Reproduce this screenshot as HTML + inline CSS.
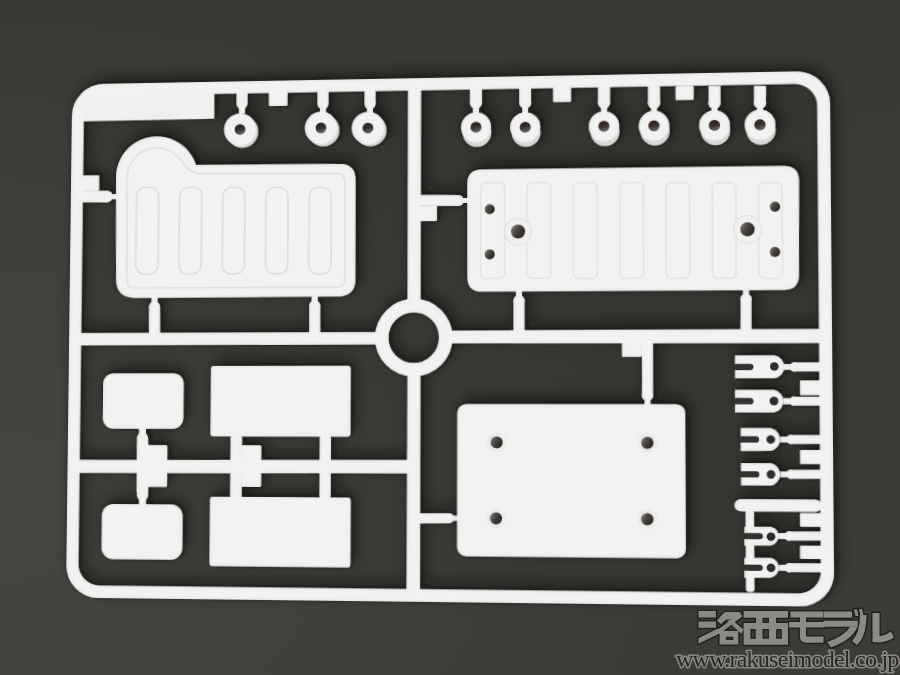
<!DOCTYPE html>
<html><head><meta charset="utf-8"><style>
html,body{margin:0;padding:0;width:900px;height:675px;overflow:hidden;background:#3f3d3a}
#bg{position:absolute;left:0;top:0;width:900px;height:675px}
#spr{position:absolute;left:0;top:0;width:900px;height:700px;transform-origin:0 0;transform:matrix3d(0.942383731,-0.0215854007,0,-5.51101509e-05,-0.0136874787,0.957308192,0,-2.619542e-05,0,0,1,0,16.165814,27.7752426,0,1)}
.w{fill:#f2f2f2}
.w2{fill:#dadad9}
.rhole{fill:url(#rg)}
.hole{fill:url(#hg)}
.slot{fill:#34312e}
.thru{fill:#2f2c29}
.rib{fill:none;stroke:#dcdcda;stroke-width:1.7}
.ln{fill:none;stroke:#dededc;stroke-width:1.6}
.halo{fill:#ebebea}
.np{fill:#f0f0ef}
.rib2{fill:none;stroke:#e3e3e2;stroke-width:1.6}
.ln2{fill:none;stroke:#eaeae9;stroke-width:1.4}
.halo2{fill:#f0f0ef;stroke:#e2e2e1;stroke-width:1.3}
</style></head><body>
<svg id="bg" width="900" height="675" viewBox="0 0 900 675">
<defs>
<linearGradient id="g1" x1="0" y1="0" x2="0" y2="1">
<stop offset="0" stop-color="#383934"/><stop offset="0.4" stop-color="#3b3a36"/><stop offset="1" stop-color="#3d3b37"/>
</linearGradient>
<radialGradient id="g2" cx="0" cy="0.75" r="0.75">
<stop offset="0" stop-color="#46443f" stop-opacity="1"/><stop offset="0.5" stop-color="#46443f" stop-opacity="0.6"/><stop offset="1" stop-color="#46443f" stop-opacity="0"/>
</radialGradient>
</defs>
<rect width="900" height="675" fill="url(#g1)"/>
<rect width="900" height="675" fill="url(#g2)"/>
</svg>
<svg id="spr" width="900" height="700" viewBox="0 0 900 700">
<defs>
<filter id="sh" x="-10%" y="-10%" width="120%" height="120%">
<feGaussianBlur in="SourceAlpha" stdDeviation="8"/>
<feOffset dx="4" dy="-6" result="b1"/>
<feFlood flood-color="#151412" flood-opacity="0.5"/>
<feComposite in2="b1" operator="in" result="s1"/>
<feGaussianBlur in="SourceAlpha" stdDeviation="2.2"/>
<feOffset dx="1.5" dy="-1.5" result="b2"/>
<feFlood flood-color="#151412" flood-opacity="0.5"/>
<feComposite in2="b2" operator="in" result="s2"/>
<feGaussianBlur in="SourceAlpha" stdDeviation="1.6" result="ib"/>
<feComposite in="SourceAlpha" in2="ib" operator="out" result="edge"/>
<feFlood flood-color="#9a9a98" flood-opacity="0.45"/>
<feComposite in2="edge" operator="in" result="ie"/>
<feMerge><feMergeNode in="s1"/><feMergeNode in="s2"/><feMergeNode in="SourceGraphic"/><feMergeNode in="ie"/></feMerge>
</filter>
<linearGradient id="hg" x1="0" y1="0.2" x2="1" y2="0.8"><stop offset="0" stop-color="#7a7774"/><stop offset="0.45" stop-color="#45403b"/><stop offset="1" stop-color="#231f1b"/></linearGradient>
<linearGradient id="rg" x1="0" y1="0" x2="0.3" y2="1"><stop offset="0" stop-color="#221d1a"/><stop offset="0.6" stop-color="#3a312c"/><stop offset="1" stop-color="#6a625c"/></linearGradient>
<filter id="blur8"><feGaussianBlur stdDeviation="6"/></filter>
</defs>
<path d="M94.5 72.5 h694.0 a22 22 0 0 1 22 22 v456.0 a22 22 0 0 1 -22 22 h-694.0 a22 22 0 0 1 -22 -22 v-456.0 a22 22 0 0 1 22 -22 Z" fill="#1f1a17" opacity="0.16" filter="url(#blur8)"/>
<g filter="url(#sh)">
<path class="w" fill-rule="evenodd" d="M93 60 h697 a33 33 0 0 1 33 33 v459 a33 33 0 0 1 -33 33 h-697 a33 33 0 0 1 -33 -33 v-459 a33 33 0 0 1 33 -33 Z M94.5 72.5 h694.0 a22 22 0 0 1 22 22 v456.0 a22 22 0 0 1 -22 22 h-694.0 a22 22 0 0 1 -22 -22 v-456.0 a22 22 0 0 1 22 -22 Z"/>
<polygon class="w" points="73.6 72.3, 208.1 67.4, 208.4 97.9, 68.6 98.6, 68.4 76.4" />
<polygon class="w" points="406.3 67.8, 419.5 68.0, 419.5 286.3, 406.5 286.2" />
<polygon class="w" points="406.7 358.4, 419.7 358.4, 419.9 577.2, 406.4 577.4" />
<polygon class="w" points="67.1 316.2, 376.9 316.2, 376.9 328.8, 67.3 329.0" />
<polygon class="w" points="449.2 315.0, 813.4 314.8, 813.3 328.5, 449.2 328.0" />
<circle cx="412.8" cy="322.0" r="32.1" fill="none" stroke="#f2f2f2" stroke-width="13.6"/>
<polygon class="w" points="66.6 445.6, 407.5 444.3, 407.5 457.8, 66.8 458.8" />
<path class="w" d="M107.0 157.0 L107.2 152.0 L108.1 147.1 L109.5 142.4 L111.4 137.9 L113.9 133.6 L116.9 129.7 L120.4 126.1 L124.2 123.0 L128.4 120.4 L133.0 118.3 L137.7 116.8 L142.6 115.8 L147.6 115.3 L152.6 115.5 L157.6 116.3 L162.4 117.6 L167.1 119.5 L171.6 121.9 L175.7 124.8 L179.5 128.1 L182.8 131.9 L185.7 136.0 L188.1 140.4 L190.0 145.0 L337.7 146.1 Q353.4 146.3 353.5 162.5 L353.9 262.7 Q354.0 280.4 335.3 280.3 L128.1 280.7 Q108.4 280.6 108.2 261.1 Z"/>
<path class="w" d="M480.9 153.5 L778.0 153.8 Q792.5 154.0 792.4 168.8 L791.7 261.6 Q791.6 276.4 777.1 276.3 L481.1 276.3 Q466.4 276.2 466.4 261.4 L466.2 167.9 Q466.2 153.3 480.9 153.5 Z"/>
<polygon class="w" points="231.1 66.8, 242.5 67.0, 242.6 83.4, 231.3 83.2" />
<ellipse cx="236.9" cy="83.3" rx="5.6" ry="5.2" class="w"/>
<polygon class="w" points="233.8 83.3, 240.0 83.4, 240.1 93.1, 233.9 93.0" />
<circle cx="237.7" cy="112.0" r="16.2" class="w2" />
<circle cx="235.1" cy="109.4" r="16.5" class="w" />
<polygon class="w" points="314.3 68.2, 325.5 68.4, 325.6 84.8, 314.4 84.6" />
<ellipse cx="320.0" cy="84.7" rx="5.6" ry="5.2" class="w"/>
<polygon class="w" points="317.0 84.6, 323.1 84.7, 323.1 94.4, 317.0 94.3" />
<circle cx="320.7" cy="111.7" r="16.2" class="w2" />
<circle cx="318.1" cy="109.1" r="16.5" class="w" />
<polygon class="w" points="362.2 69.1, 373.4 69.3, 373.5 85.6, 362.3 85.4" />
<ellipse cx="367.9" cy="85.5" rx="5.6" ry="5.2" class="w"/>
<polygon class="w" points="364.8 85.4, 370.9 85.5, 371.0 95.2, 364.9 95.1" />
<circle cx="368.5" cy="112.4" r="16.2" class="w2" />
<circle cx="365.9" cy="109.9" r="16.5" class="w" />
<polygon class="w" points="468.8 68.9, 480.8 69.1, 480.9 86.3, 468.8 86.1" />
<ellipse cx="474.8" cy="86.2" rx="6.1" ry="5.7" class="w"/>
<polygon class="w" points="471.8 86.2, 477.9 86.3, 477.9 96.9, 471.8 96.8" />
<circle cx="475.9" cy="116.3" r="14.3" class="w2" />
<circle cx="474.9" cy="110.7" r="15.0" class="w" />
<polygon class="w" points="518.1 69.8, 530.0 70.0, 530.0 87.1, 518.1 86.9" />
<ellipse cx="524.1" cy="87.0" rx="6.1" ry="5.7" class="w"/>
<polygon class="w" points="521.1 87.0, 527.0 87.1, 527.0 97.7, 521.1 97.6" />
<circle cx="525.0" cy="117.0" r="14.3" class="w2" />
<circle cx="524.1" cy="111.4" r="15.0" class="w" />
<polygon class="w" points="596.4 71.1, 608.3 71.4, 608.2 88.4, 596.4 88.2" />
<ellipse cx="602.3" cy="88.3" rx="6.1" ry="5.7" class="w"/>
<polygon class="w" points="599.3 88.3, 605.3 88.4, 605.2 98.9, 599.3 98.8" />
<circle cx="603.2" cy="117.3" r="14.3" class="w2" />
<circle cx="602.2" cy="111.7" r="15.0" class="w" />
<polygon class="w" points="645.7 72.0, 657.5 72.2, 657.5 89.3, 645.7 89.1" />
<ellipse cx="651.6" cy="89.2" rx="6.1" ry="5.7" class="w"/>
<polygon class="w" points="648.6 89.1, 654.5 89.2, 654.5 99.7, 648.6 99.6" />
<circle cx="652.5" cy="117.5" r="14.3" class="w2" />
<circle cx="651.5" cy="112.0" r="15.0" class="w" />
<polygon class="w" points="705.1 73.1, 716.8 73.3, 716.7 90.2, 705.0 90.0" />
<ellipse cx="710.8" cy="90.1" rx="6.1" ry="5.7" class="w"/>
<polygon class="w" points="707.9 90.1, 713.8 90.2, 713.7 100.7, 707.9 100.6" />
<circle cx="711.7" cy="117.9" r="14.3" class="w2" />
<circle cx="710.7" cy="112.4" r="15.0" class="w" />
<polygon class="w" points="749.4 73.8, 761.1 74.0, 761.0 91.0, 749.3 90.8" />
<ellipse cx="755.1" cy="90.9" rx="6.1" ry="5.7" class="w"/>
<polygon class="w" points="752.2 90.8, 758.1 90.9, 758.0 101.4, 752.2 101.3" />
<circle cx="755.9" cy="118.1" r="14.3" class="w2" />
<circle cx="755.0" cy="112.6" r="15.0" class="w" />
<rect x="264.6" y="65.3" width="19.1" height="20.8" rx="1.5" class="w" />
<rect x="551.8" y="70.4" width="17.9" height="16.4" rx="1.5" class="w" />
<rect x="672.8" y="72.5" width="17.7" height="14.3" rx="1.5" class="w" />
<polygon class="w" points="142.7 289.4, 154.1 289.5, 154.4 317.5, 143.0 317.5" />
<ellipse cx="148.4" cy="289.5" rx="5.6" ry="5.2" class="w"/>
<polygon class="w" points="145.2 279.2, 151.4 279.3, 151.5 289.5, 145.3 289.4" />
<polygon class="w" points="307.1 289.2, 318.3 289.3, 318.4 317.0, 307.3 317.0" />
<ellipse cx="312.7" cy="289.2" rx="5.6" ry="5.2" class="w"/>
<polygon class="w" points="309.6 279.1, 315.7 279.2, 315.8 289.3, 309.7 289.2" />
<polygon class="w" points="512.4 285.2, 523.3 285.3, 523.3 315.7, 512.4 315.7" />
<ellipse cx="517.9" cy="285.3" rx="5.6" ry="5.2" class="w"/>
<polygon class="w" points="514.9 275.3, 520.9 275.3, 520.9 285.3, 514.9 285.2" />
<polygon class="w" points="735.1 284.9, 745.7 285.0, 745.5 315.5, 734.9 315.5" />
<ellipse cx="740.4" cy="284.9" rx="5.6" ry="5.2" class="w"/>
<polygon class="w" points="737.5 275.1, 743.3 275.1, 743.3 285.0, 737.5 284.9" />
<polygon class="w" points="68.5 170.2, 98.0 170.6, 98.1 182.4, 68.6 182.1" />
<ellipse cx="98.1" cy="176.5" rx="5.5" ry="5.9" class="w"/>
<polygon class="w" points="98.0 173.9, 108.2 174.0, 108.3 179.2, 98.1 179.1" />
<rect x="68.3" y="154.4" width="21.1" height="16.2" rx="1.0" class="w" />
<polygon class="w" points="418.7 178.5, 457.4 178.9, 457.5 190.0, 418.8 189.6" />
<ellipse cx="457.4" cy="184.5" rx="5.2" ry="5.6" class="w"/>
<polygon class="w" points="457.4 181.9, 467.5 182.0, 467.5 187.1, 457.4 187.0" />
<rect x="418.8" y="189.6" width="17.1" height="15.3" rx="1.0" class="w" />
<rect x="96.0" y="357.4" width="83.3" height="56.4" rx="11.0" class="w" />
<rect x="96.2" y="490.1" width="83.2" height="55.6" rx="12.0" class="w" />
<polygon class="w" points="131.7 422.6, 143.1 422.6, 143.2 435.2, 131.8 435.3" />
<ellipse cx="137.4" cy="422.6" rx="5.6" ry="5.2" class="w"/>
<polygon class="w" points="133.7 412.5, 140.9 412.4, 141.0 422.6, 133.8 422.6" />
<rect x="131.8" y="429.2" width="11.9" height="48.5" rx="0.0" class="w" />
<polygon class="w" points="132.2 470.7, 143.6 470.6, 143.7 481.2, 132.3 481.3" />
<ellipse cx="138.0" cy="481.2" rx="5.6" ry="5.2" class="w"/>
<polygon class="w" points="134.4 481.3, 141.6 481.2, 141.7 491.3, 134.5 491.4" />
<rect x="142.1" y="430.2" width="21.0" height="42.4" rx="1.5" class="w" />
<rect x="207.2" y="350.0" width="142.3" height="71.3" rx="3.0" class="w" />
<rect x="207.3" y="482.0" width="142.8" height="69.8" rx="3.0" class="w" />
<rect x="227.9" y="420.8" width="11.7" height="62.3" rx="2.0" class="w" />
<rect x="318.6" y="420.6" width="11.4" height="62.0" rx="2.0" class="w" />
<rect x="239.2" y="429.9" width="20.1" height="42.1" rx="1.5" class="w" />
<rect x="456.6" y="388.4" width="224.4" height="151.0" rx="9.0" class="w" />
<polygon class="w" points="639.0 327.0, 649.8 327.0, 649.6 379.9, 638.9 379.9" />
<ellipse cx="644.2" cy="379.9" rx="5.6" ry="5.2" class="w"/>
<polygon class="w" points="641.3 379.9, 647.1 379.9, 647.1 389.7, 641.3 389.7" />
<rect x="619.4" y="326.9" width="19.5" height="14.9" rx="1.0" class="w" />
<polygon class="w" points="418.6 497.3, 448.8 497.1, 448.9 507.0, 418.7 507.2" />
<ellipse cx="448.8" cy="502.0" rx="4.8" ry="5.1" class="w"/>
<polygon class="w" points="448.8 499.5, 458.3 499.5, 458.3 504.4, 448.8 504.5" />
<path class="w" d="M729.4 340.5 L767.4 340.6 A11.4 11.4 0 0 1 767.2 363.1 L729.3 363.1 Z"/>
<polygon class="w" points="786.5 347.5, 813.1 347.5, 813.1 356.3, 786.4 356.3" />
<ellipse cx="786.5" cy="351.9" rx="4.3" ry="4.6" class="w"/>
<polygon class="w" points="776.4 348.9, 786.5 348.9, 786.4 354.8, 776.4 354.8" />
<path class="w" d="M729.2 374.3 L766.8 374.3 A11.4 11.4 0 0 1 766.7 396.6 L729.1 396.6 Z"/>
<polygon class="w" points="785.9 381.0, 812.9 381.0, 812.8 389.8, 785.9 389.8" />
<ellipse cx="785.9" cy="385.4" rx="4.3" ry="4.6" class="w"/>
<polygon class="w" points="775.8 382.5, 785.9 382.5, 785.9 388.3, 775.8 388.4" />
<path class="w" d="M734.5 411.7 L763.5 411.7 A11.5 11.5 0 0 1 763.4 434.1 L734.4 434.2 Z"/>
<polygon class="w" points="782.7 418.5, 812.6 418.4, 812.5 427.1, 782.6 427.2" />
<ellipse cx="782.6" cy="422.8" rx="4.3" ry="4.6" class="w"/>
<polygon class="w" points="772.6 419.9, 782.7 419.9, 782.6 425.8, 772.5 425.8" />
<path class="w" d="M734.6 446.0 L763.5 445.9 A11.3 11.3 0 0 1 763.3 467.9 L734.5 468.1 Z"/>
<polygon class="w" points="782.4 452.4, 812.3 452.3, 812.2 461.0, 782.4 461.2" />
<ellipse cx="782.4" cy="456.8" rx="4.3" ry="4.6" class="w"/>
<polygon class="w" points="772.4 453.9, 782.4 453.9, 782.4 459.7, 772.3 459.8" />
<path class="w" d="M737.5 508.1 L763.1 507.9 A9.4 9.4 0 0 1 762.9 526.2 L737.4 526.4 Z"/>
<polygon class="w" points="780.2 512.6, 811.8 512.3, 811.7 521.0, 780.1 521.3" />
<ellipse cx="780.2" cy="516.9" rx="4.3" ry="4.6" class="w"/>
<polygon class="w" points="770.1 514.1, 780.2 514.0, 780.1 519.8, 770.1 519.9" />
<path class="w" d="M737.3 538.4 L762.9 538.2 A10.0 10.0 0 0 1 762.7 557.6 L737.2 557.8 Z"/>
<polygon class="w" points="780.5 543.3, 811.6 543.0, 811.5 551.7, 780.5 552.0" />
<ellipse cx="780.5" cy="547.7" rx="4.3" ry="4.6" class="w"/>
<polygon class="w" points="770.5 544.9, 780.5 544.8, 780.5 550.6, 770.4 550.7" />
<rect x="728.0" y="481.2" width="83.9" height="12.1" rx="6.5" class="w" />
<rect x="738.7" y="491.8" width="8.2" height="79.7" rx="3.0" class="w" />
<rect x="791.9" y="365.1" width="21.0" height="14.3" rx="1.0" class="w" />
<rect x="791.4" y="433.1" width="20.9" height="13.6" rx="1.0" class="w" />
<rect x="790.9" y="494.4" width="20.9" height="13.4" rx="1.0" class="w" />
<rect x="790.7" y="526.0" width="20.9" height="12.9" rx="1.0" class="w" />
</g>
<g>
<polygon class="np" points="74.6 73.4, 206.4 69.4, 206.6 96.7, 72.8 97.2" />
<path class="ln" d="M118.5 157.6 L118.6 154.5 L119.0 151.4 L119.8 148.4 L120.9 145.4 L122.3 142.6 L123.9 140.0 L125.9 137.5 L128.0 135.3 L130.4 133.3 L133.0 131.5 L135.8 130.1 L138.7 128.9 L141.7 128.0 L144.8 127.4 L148.0 127.2 L151.2 127.2 L154.3 127.6 L157.4 128.3 L160.5 129.3 L163.4 130.6 L166.2 132.2 L168.7 134.1 L171.1 136.2 L173.3 138.5 Q183.8 153.8 193.1 153.9 L334.7 155.7 Q342.8 155.8 342.8 163.9 L343.3 262.7 Q343.3 270.7 335.2 270.7 L127.0 270.5 Q119.7 270.4 119.6 262.2 Z"/>
<rect x="128.5" y="167.5" width="23.2" height="88.8" rx="9.0" class="rib" />
<rect x="173.3" y="168.0" width="23.0" height="88.6" rx="9.0" class="rib" />
<rect x="217.9" y="168.5" width="22.8" height="88.4" rx="9.0" class="rib" />
<rect x="262.3" y="169.1" width="22.6" height="88.1" rx="9.0" class="rib" />
<rect x="306.5" y="169.6" width="22.4" height="87.9" rx="9.0" class="rib" />
<rect x="479.6" y="166.9" width="24.0" height="96.1" rx="5.0" class="rib2" />
<rect x="525.8" y="167.4" width="23.8" height="95.9" rx="5.0" class="rib2" />
<rect x="571.8" y="168.0" width="23.5" height="95.6" rx="5.0" class="rib2" />
<rect x="617.5" y="168.5" width="23.3" height="95.3" rx="5.0" class="rib2" />
<rect x="663.0" y="169.1" width="23.1" height="95.1" rx="5.0" class="rib2" />
<rect x="708.2" y="169.6" width="22.8" height="94.8" rx="5.0" class="rib2" />
<rect x="753.2" y="170.1" width="22.6" height="94.6" rx="5.0" class="rib2" />
<circle cx="516.9" cy="216.3" r="13.5" class="halo2" />
<circle cx="742.2" cy="216.1" r="13.5" class="halo2" />
<circle cx="488.7" cy="193.5" r="5.0" class="hole" />
<circle cx="488.7" cy="238.9" r="5.0" class="hole" />
<circle cx="769.0" cy="194.0" r="5.0" class="hole" />
<circle cx="768.7" cy="238.8" r="5.0" class="hole" />
<circle cx="516.9" cy="216.3" r="7.0" class="hole" />
<circle cx="742.2" cy="216.1" r="7.0" class="hole" />
<circle cx="235.1" cy="109.4" r="5.5" class="rhole" />
<circle cx="318.1" cy="109.1" r="5.5" class="rhole" />
<circle cx="365.9" cy="109.9" r="5.5" class="rhole" />
<circle cx="474.9" cy="110.7" r="5.5" class="rhole" />
<circle cx="524.1" cy="111.4" r="5.5" class="rhole" />
<circle cx="602.2" cy="111.7" r="5.5" class="rhole" />
<circle cx="651.5" cy="112.0" r="5.5" class="rhole" />
<circle cx="710.7" cy="112.4" r="5.5" class="rhole" />
<circle cx="755.0" cy="112.6" r="5.5" class="rhole" />
<circle cx="495.8" cy="426.4" r="10.0" class="halo" />
<circle cx="495.8" cy="426.4" r="6.0" class="hole" />
<circle cx="643.9" cy="426.4" r="10.0" class="halo" />
<circle cx="643.9" cy="426.4" r="6.0" class="hole" />
<circle cx="495.2" cy="501.7" r="10.0" class="halo" />
<circle cx="495.2" cy="501.7" r="6.0" class="hole" />
<circle cx="643.6" cy="501.6" r="10.0" class="halo" />
<circle cx="643.6" cy="501.6" r="6.0" class="hole" />
<rect x="727.4" y="348.7" width="19.8" height="6.3" rx="3.2" class="slot" />
<circle cx="767.3" cy="351.4" r="4.2" class="thru" />
<rect x="727.2" y="382.3" width="19.8" height="6.3" rx="3.2" class="slot" />
<circle cx="766.8" cy="385.2" r="4.2" class="thru" />
<rect x="732.5" y="419.8" width="19.7" height="6.2" rx="3.2" class="slot" />
<circle cx="763.4" cy="422.9" r="4.2" class="thru" />
<rect x="732.6" y="453.9" width="19.7" height="6.2" rx="3.2" class="slot" />
<circle cx="763.4" cy="457.0" r="4.2" class="thru" />
<rect x="735.6" y="514.2" width="19.7" height="6.1" rx="3.2" class="slot" />
<circle cx="763.0" cy="517.6" r="4.2" class="thru" />
<rect x="735.4" y="545.0" width="19.6" height="6.0" rx="3.2" class="slot" />
<circle cx="762.8" cy="547.9" r="4.2" class="thru" />
</g>
</svg>
<svg id="wm" width="900" height="675" viewBox="0 0 900 675" style="position:absolute;left:0;top:0">
<g fill="#242220" stroke="#242220" stroke-width="3" stroke-linejoin="round"><path d="M698.5 611 H715.9 V617.5 H698.5 Z" fill-rule="evenodd"/><path d="M698.5 621.5 H715.9 V627.8 H698.5 Z" fill-rule="evenodd"/><path d="M698.5 638.3 L718 628.5 L720.5 633 L698.5 643.8 Z" fill-rule="evenodd"/><path d="M716.8 620.5 L724.8 612 L739.8 612 L742.3 616 L738.5 619.6 L726 619.6 L721 624 Z" fill-rule="evenodd"/><path d="M736 616.5 L742.3 616 L721.5 632.5 L716.5 630.5 Z" fill-rule="evenodd"/><path d="M727 620.8 L731.8 619.8 L743.5 629.5 L741.5 634 Z" fill-rule="evenodd"/><path d="M719.6 630.9 H738.3 V644.6 H719.6 Z M725.9 636.8 V639.9 H733.3 V636.8 Z" fill-rule="evenodd"/><path d="M743.6 611 H788 V617.8 H776 V623.1 H788 V644.7 H743.6 V623.1 H756 V617.8 H743.6 Z M762.5 617.8 V623.1 H769 V617.8 Z M750.4 629 V638.8 H755.7 V629 Z M762.5 629 V638.8 H769 V629 Z M776.1 629 V638.8 H781.8 V629 Z" fill-rule="evenodd"/><path d="M790.4 611.5 H823.5 V617.6 H790.4 Z" fill-rule="evenodd"/><path d="M789 622 H824.7 V627.4 H789 Z" fill-rule="evenodd"/><path d="M800 617 H806 V636.6 H823.5 V642.7 H806 Q800 642.7 800 637 Z" fill-rule="evenodd"/><path d="M824 611.5 H852 V617.6 H824 Z" fill-rule="evenodd"/><path d="M823.5 620.7 H857.7 V626.8 H823.5 Z" fill-rule="evenodd"/><path d="M850 626.8 H857.5 Q852 640 831 647.5 L827 642 Q845 636 850 626.8 Z" fill-rule="evenodd"/><path d="M854 609.5 L857 609.5 L858.5 616 L855.5 616 Z M859 609 L862 609 L863.5 615.5 L860.5 615.5 Z" fill-rule="evenodd"/><path d="M860 615 H866.5 Q866.5 636 857 645 L852 641 Q860 633 860 615 Z" fill-rule="evenodd"/><path d="M872.5 613 H879.5 V636 Q884 636 891 631.5 L894 637.5 Q884 644 872.5 642 Z" fill-rule="evenodd"/></g>
<g fill="#8b8a87"><path d="M698.5 611 H715.9 V617.5 H698.5 Z" fill-rule="evenodd"/><path d="M698.5 621.5 H715.9 V627.8 H698.5 Z" fill-rule="evenodd"/><path d="M698.5 638.3 L718 628.5 L720.5 633 L698.5 643.8 Z" fill-rule="evenodd"/><path d="M716.8 620.5 L724.8 612 L739.8 612 L742.3 616 L738.5 619.6 L726 619.6 L721 624 Z" fill-rule="evenodd"/><path d="M736 616.5 L742.3 616 L721.5 632.5 L716.5 630.5 Z" fill-rule="evenodd"/><path d="M727 620.8 L731.8 619.8 L743.5 629.5 L741.5 634 Z" fill-rule="evenodd"/><path d="M719.6 630.9 H738.3 V644.6 H719.6 Z M725.9 636.8 V639.9 H733.3 V636.8 Z" fill-rule="evenodd"/><path d="M743.6 611 H788 V617.8 H776 V623.1 H788 V644.7 H743.6 V623.1 H756 V617.8 H743.6 Z M762.5 617.8 V623.1 H769 V617.8 Z M750.4 629 V638.8 H755.7 V629 Z M762.5 629 V638.8 H769 V629 Z M776.1 629 V638.8 H781.8 V629 Z" fill-rule="evenodd"/><path d="M790.4 611.5 H823.5 V617.6 H790.4 Z" fill-rule="evenodd"/><path d="M789 622 H824.7 V627.4 H789 Z" fill-rule="evenodd"/><path d="M800 617 H806 V636.6 H823.5 V642.7 H806 Q800 642.7 800 637 Z" fill-rule="evenodd"/><path d="M824 611.5 H852 V617.6 H824 Z" fill-rule="evenodd"/><path d="M823.5 620.7 H857.7 V626.8 H823.5 Z" fill-rule="evenodd"/><path d="M850 626.8 H857.5 Q852 640 831 647.5 L827 642 Q845 636 850 626.8 Z" fill-rule="evenodd"/><path d="M854 609.5 L857 609.5 L858.5 616 L855.5 616 Z M859 609 L862 609 L863.5 615.5 L860.5 615.5 Z" fill-rule="evenodd"/><path d="M860 615 H866.5 Q866.5 636 857 645 L852 641 Q860 633 860 615 Z" fill-rule="evenodd"/><path d="M872.5 613 H879.5 V636 Q884 636 891 631.5 L894 637.5 Q884 644 872.5 642 Z" fill-rule="evenodd"/></g>
<text x="676" y="667" font-family="Liberation Serif" font-size="24" letter-spacing="-0.75" fill="#2a2826" stroke="#8a8884" stroke-width="3.2" stroke-linejoin="round" paint-order="stroke">www.rakuseimodel.co.jp</text>
</svg>
</body></html>
